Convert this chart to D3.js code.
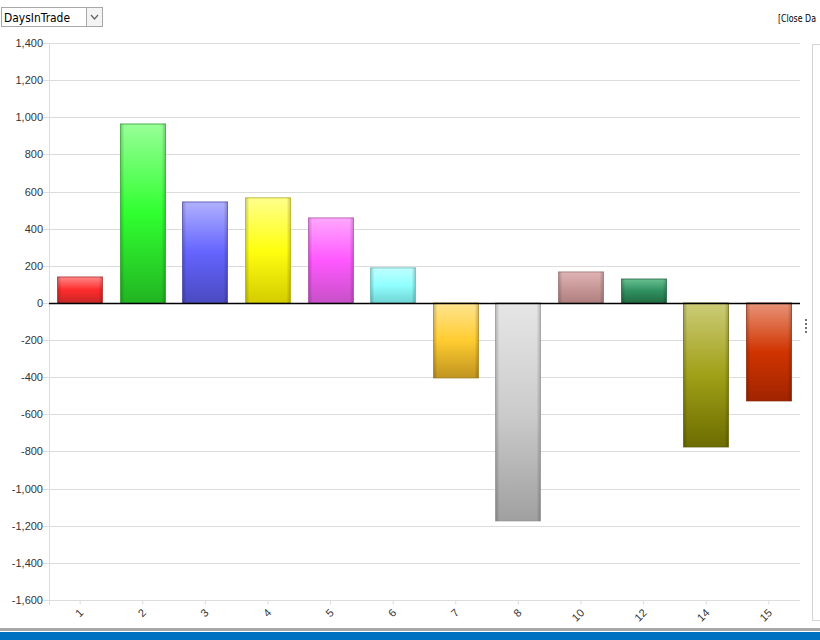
<!DOCTYPE html>
<html><head><meta charset="utf-8">
<script src="https://cdn.jsdelivr.net/npm/d3@7"></script>
<style>
html,body{margin:0;padding:0;background:#fff;overflow:hidden;}
svg{display:block;font-family:Arial,"Liberation Sans",sans-serif;}
</style></head>
<body>
<svg id="c" width="820" height="640"></svg>
<script>
const categories = ["1","2","3","4","5","6","7","8","10","12","14","15"];
const values = [140, 964, 544, 566, 458, 189, -404, -1174, 167, 129, -776, -528];
const yTicks = [1400,1200,1000,800,600,400,200,0,-200,-400,-600,-800,-1000,-1200,-1400,-1600];
// [top, middle, bottom, border]
const barColors = [
  ["#ff8a8a","#ff2a2a","#c82828","#a02020"],
  ["#98ff98","#30ff30","#22b422","#1c901c"],
  ["#b0b0ff","#6464ff","#4a4ac0","#3a3a9a"],
  ["#ffff8c","#ffff10","#d4cc00","#a8a000"],
  ["#ffa8ff","#ff58ff","#c850c8","#a040a0"],
  ["#c0ffff","#90ffff","#70d4d4","#58aaaa"],
  ["#ffe490","#ffcc30","#c09420","#9a7418"],
  ["#e6e6e6","#cccccc","#a0a0a0","#888888"],
  ["#e0b4b4","#c89898","#b08080","#8c6464"],
  ["#68c090","#309060","#206c40","#185434"],
  ["#cccc78","#a0a018","#6c6c00","#585800"],
  ["#e89478","#d03400","#a02400","#801c00"]
];

const svg = d3.select("#c");
const pL = 49, pR = 800, pT = 43, pB = 600;
const x = d3.scaleBand().domain(categories).range([pL, pR]).paddingInner(0.265).paddingOuter(0.13);
const y = d3.scaleLinear().domain([-1600, 1400]).range([pB, pT]);
const loc = d3.formatLocale({decimal:".", thousands:",", grouping:[3], currency:["$",""], minus:"-"});
const fmt = loc.format(",");

// dropdown
const dd = svg.append("g");
dd.append("rect").attr("x",1.5).attr("y",7.5).attr("width",101).attr("height",19).attr("fill","#fff").attr("stroke","#a8a8a8");
dd.append("rect").attr("x",86.5).attr("y",7.5).attr("width",16).attr("height",19).attr("fill","#f4f4f4").attr("stroke","#a8a8a8");
dd.append("path").attr("d","M91,15 L94.5,19 L98,15").attr("fill","none").attr("stroke","#666").attr("stroke-width",1.3);
dd.append("text").attr("x",4).attr("y",21.5).attr("font-size",12).attr("fill","#000").attr("font-family","'DejaVu Sans',sans-serif").attr("textLength",66).attr("lengthAdjust","spacingAndGlyphs").text("DaysInTrade");

svg.append("text").attr("x",778).attr("y",22).attr("font-size",11).attr("fill","#000").attr("font-family","'DejaVu Sans',sans-serif").attr("textLength",38).attr("lengthAdjust","spacingAndGlyphs").text("[Close Da");

// right panel
svg.append("path").attr("d","M820,44.5 L812.5,44.5 L812.5,620.5 L820,620.5").attr("fill","none").attr("stroke","#d4d4d4");
[320,324,328,332].forEach(v=>svg.append("rect").attr("x",805).attr("y",v-1).attr("width",2).attr("height",2).attr("fill","#707070"));

// gridlines
const g = svg.append("g");
g.selectAll("line.grid").data(yTicks).enter().append("line")
  .attr("x1",43).attr("x2",pR).attr("y1",d=>Math.round(y(d))+0.5).attr("y2",d=>Math.round(y(d))+0.5)
  .attr("stroke","#dcdcdc");
// y axis line
svg.append("line").attr("x1",pL+0.5).attr("x2",pL+0.5).attr("y1",pT).attr("y2",pB+5).attr("stroke","#dcdcdc");

const yAxis = d3.axisLeft(y).tickValues(yTicks).tickSize(0).tickPadding(0).tickFormat(fmt);
const ya = svg.append("g").attr("transform",`translate(${pL-6},0)`).call(yAxis);
ya.select(".domain").remove();
ya.selectAll("text").attr("font-size",11).attr("fill","#333").attr("font-family","Arial,'Liberation Sans',sans-serif");

// x axis
const xAxis = d3.axisBottom(x).tickSize(4).tickSizeOuter(0);
const xa = svg.append("g").attr("transform",`translate(0,${pB+0.5})`).call(xAxis);
xa.select(".domain").remove();
xa.selectAll("line").attr("stroke","#dcdcdc");
xa.selectAll("text").attr("font-size",11).attr("fill","#333")
  .attr("text-anchor","end").attr("dy",0).attr("y",0)
  .attr("transform","translate(4,13) rotate(-45)");

// gradients
const defs = svg.append("defs");
barColors.forEach((c,i)=>{
  const lg = defs.append("linearGradient").attr("id","g"+i).attr("x1",0).attr("y1",0).attr("x2",0).attr("y2",1);
  lg.append("stop").attr("offset","0%").attr("stop-color",c[0]);
  lg.append("stop").attr("offset","50%").attr("stop-color",c[1]);
  lg.append("stop").attr("offset","100%").attr("stop-color",c[2]);
  const hg = defs.append("linearGradient").attr("id","h"+i).attr("x1",0).attr("y1",0).attr("x2",1).attr("y2",0);
  hg.append("stop").attr("offset","0%").attr("stop-color","#000").attr("stop-opacity",0.18);
  hg.append("stop").attr("offset","8%").attr("stop-color","#000").attr("stop-opacity",0);
  hg.append("stop").attr("offset","92%").attr("stop-color","#000").attr("stop-opacity",0);
  hg.append("stop").attr("offset","100%").attr("stop-color","#000").attr("stop-opacity",0.18);
});

const data = categories.map((c,i)=>({c, v:values[i], i}));
const bars = svg.append("g");
bars.selectAll("rect.bar").data(data).enter().append("rect")
  .attr("x",d=>Math.round(x(d.c))+0.5)
  .attr("y",d=>y(Math.max(0,d.v)))
  .attr("width",Math.round(x.bandwidth())-1)
  .attr("height",d=>Math.abs(y(d.v)-y(0)))
  .attr("fill",d=>`url(#g${d.i})`)
  .attr("stroke",d=>barColors[d.i][3]).attr("stroke-opacity",0.7);
bars.selectAll("rect.shade").data(data).enter().append("rect")
  .attr("x",d=>Math.round(x(d.c))+1)
  .attr("y",d=>y(Math.max(0,d.v)))
  .attr("width",Math.round(x.bandwidth())-2)
  .attr("height",d=>Math.abs(y(d.v)-y(0)))
  .attr("fill",d=>`url(#h${d.i})`);

// zero line
svg.append("line").attr("x1",pL).attr("x2",pR).attr("y1",Math.round(y(0))+0.5).attr("y2",Math.round(y(0))+0.5).attr("stroke","#000").attr("stroke-width",1.3);

// bottom bars
svg.append("rect").attr("x",0).attr("y",628).attr("width",820).attr("height",3).attr("fill","#a8a8a8");
svg.append("rect").attr("x",0).attr("y",632).attr("width",820).attr("height",8).attr("fill","#0070c0");
</script>
</body></html>
